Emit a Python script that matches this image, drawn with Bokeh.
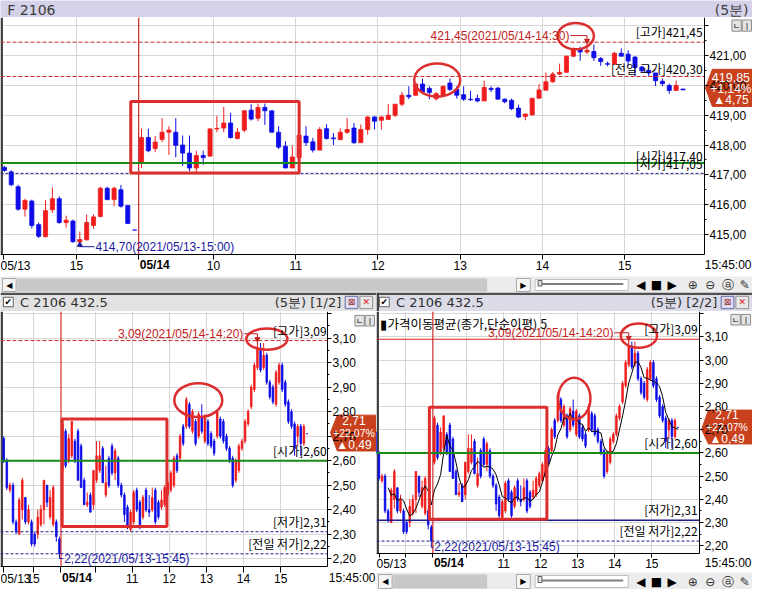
import pandas as pd
from bokeh.plotting import figure
from bokeh.models import Range1d, FixedTicker, Label, ColumnDataSource
from bokeh.layouts import column, row
from bokeh.embed import file_html
from bokeh.resources import INLINE
from bokeh.core.properties import value

KFONT = "Noto Sans CJK KR"
NFONT = "Liberation Sans"
SYM = "DejaVu Sans"
UP, DOWN = "#f01c1c", "#0c0ce8"
RED_LINE = "#c42a2a"
NAVY = "#1c1c8c"
GREEN = "#188a18"
MARK = "#dc2e2e"
GRID = "#d6d6d6"
TAG = "#c8401c"

# ---------------- F 2106 (5-min) : 20 bars of 05/13 + 80 bars of 05/14 ----------------
fut_x = list(range(100))
fut_open = [417.25, 417.10, 416.60, 415.85, 416.12, 415.33, 414.93, 415.83, 416.20, 415.40,
            415.45, 414.75, 414.82, 415.30, 415.60, 416.55, 416.17, 416.50, 415.97, 415.15,
            417.43, 418.25, 417.88, 418.19, 418.43, 418.43, 418.00, 417.73, 417.23, 417.65,
            417.63, 418.54, 418.57, 418.74, 418.22, 418.50, 419.17, 418.90, 419.26, 419.15,
            418.43, 417.96, 417.23, 417.58, 418.30, 418.11, 417.83, 418.55, 418.24, 418.18,
            418.43, 418.57, 418.08, 418.52, 418.94, 418.83, 418.86, 419.00, 419.37, 419.67,
            419.67, 420.05, 419.90, 419.55, 419.67, 420.08, 419.87, 419.69, 419.54, 419.56,
            419.48, 419.90, 419.91, 419.54, 419.50, 419.24, 418.96, 419.01, 419.57, 419.84,
            420.12, 420.38, 420.44, 420.98, 421.22, 421.12, 421.14, 420.90, 420.73, 420.71,
            421.08, 421.05, 420.95, 420.62, 420.50, 420.42, 420.14, 420.00, 419.83, 419.88]
fut_high = [417.30, 417.15, 416.67, 416.20, 416.17, 415.40, 416.15, 416.58, 416.28, 415.63,
            415.50, 415.10, 415.67, 415.67, 416.60, 416.60, 416.60, 416.66, 415.97, 415.15,
            418.55, 418.55, 418.30, 418.90, 418.63, 418.90, 418.32, 418.32, 417.81, 417.81,
            418.57, 418.98, 419.28, 419.08, 418.57, 419.17, 419.37, 419.39, 419.39, 419.15,
            418.63, 418.13, 417.98, 418.35, 418.63, 418.24, 418.60, 418.70, 418.40, 418.56,
            418.91, 418.74, 418.69, 418.97, 418.97, 418.97, 419.37, 419.37, 419.78, 419.97,
            420.10, 420.23, 419.97, 419.78, 420.00, 420.23, 419.97, 419.97, 419.82, 419.69,
            420.16, 419.97, 419.95, 419.56, 419.56, 419.35, 419.05, 419.57, 420.05, 420.43,
            420.45, 420.73, 421.00, 421.28, 421.30, 421.45, 421.37, 420.95, 420.80, 421.12,
            421.24, 421.18, 420.98, 420.65, 420.68, 420.42, 420.23, 420.06, 420.16, 419.88]
fut_low = [417.10, 416.62, 415.80, 415.60, 415.20, 414.88, 414.90, 415.72, 415.36, 415.23,
           414.72, 414.70, 414.80, 415.19, 415.58, 416.15, 415.95, 415.90, 415.35, 415.15,
           417.23, 417.76, 417.76, 418.10, 417.67, 417.59, 417.30, 417.12, 417.10, 417.34,
           417.60, 418.43, 418.43, 418.22, 418.19, 418.43, 418.82, 418.80, 418.68, 418.43,
           417.87, 417.23, 417.23, 417.55, 417.97, 417.75, 417.83, 418.18, 418.00, 418.18,
           418.37, 418.04, 418.08, 418.35, 418.52, 418.52, 418.86, 418.94, 419.30, 419.54,
           419.67, 419.78, 419.54, 419.50, 419.67, 419.82, 419.56, 419.48, 419.48, 419.43,
           419.48, 419.78, 419.54, 419.40, 419.17, 418.90, 418.83, 419.00, 419.57, 419.84,
           420.09, 420.35, 420.44, 420.95, 420.83, 421.05, 420.82, 420.66, 420.64, 420.71,
           420.98, 420.66, 420.30, 420.43, 420.30, 419.98, 419.98, 419.72, 419.83, 419.85]
fut_close = [417.15, 416.67, 415.85, 416.14, 415.30, 414.94, 415.80, 416.20, 415.40, 415.48,
             414.76, 414.83, 415.40, 415.59, 416.55, 416.17, 416.55, 415.95, 415.37, 415.15,
             418.25, 417.81, 418.10, 418.43, 418.50, 417.99, 417.73, 417.23, 417.65, 417.58,
             418.54, 418.56, 418.74, 418.25, 418.43, 419.15, 418.87, 419.26, 419.15, 418.43,
             417.93, 417.23, 417.60, 418.33, 418.08, 417.83, 418.52, 418.22, 418.21, 418.43,
             418.52, 418.08, 418.52, 418.94, 418.80, 418.94, 419.00, 419.37, 419.67, 419.62,
             420.05, 419.78, 419.76, 419.72, 419.97, 419.86, 419.67, 419.54, 419.52, 419.48,
             419.93, 419.86, 419.54, 419.45, 419.22, 418.94, 419.04, 419.57, 419.85, 420.12,
             420.38, 420.44, 420.98, 421.22, 421.12, 421.18, 420.93, 420.80, 420.71, 421.08,
             420.98, 420.82, 420.60, 420.49, 420.42, 420.16, 420.06, 419.83, 420.00, 419.85]
fut_ticks = [-0.1, 10.5, 19.6, 30.5, 42.5, 54.5, 66.5, 78.5, 90.5]
fut_tick_labels = ["05/13", "15", "", "10", "11", "12", "13", "14", "15"]
fut_day_start = 19.6
fut_high_bar = 85
fut_low_bar = 11
fut_levels = {"high": 421.45, "prev_high": 420.30, "open": 417.40, "low": 417.05}
fut_y_ticks = [415, 416, 417, 418, 419, 420, 421, 422]
fut_y_labels = ["415,00", "416,00", "417,00", "418,00", "419,00", "420,00", "421,00", ""]
fut_tag = ["419,85", "+1,14%", "▲4,75"]

# ---------------- C 2106 432.5 (5-min) : 19 bars of 05/13 + 80 bars of 05/14 ----------------
opt_x = list(range(99))
opt_open = [2.69, 2.60, 2.48, 2.50, 2.35, 2.30, 2.40, 2.45, 2.35, 2.35, 2.30, 2.30, 2.34, 2.40, 2.50, 2.37, 2.34, 2.35, 2.28,
            2.56, 2.72, 2.60, 2.62, 2.68, 2.72, 2.66, 2.52, 2.42, 2.46,
            2.42, 2.52, 2.56, 2.65, 2.46, 2.61, 2.66, 2.55, 2.61, 2.50,
            2.46, 2.41, 2.32, 2.35, 2.48, 2.43, 2.37, 2.48, 2.40, 2.40,
            2.48, 2.43, 2.41, 2.42, 2.46, 2.48, 2.50, 2.62, 2.61, 2.74,
            2.74, 2.83, 2.72, 2.76, 2.70, 2.78, 2.68, 2.76, 2.71, 2.68,
            2.70, 2.77, 2.76, 2.70, 2.65, 2.61, 2.52, 2.56, 2.65, 2.68,
            2.75, 2.82, 2.89, 2.98, 3.06, 2.98, 3.03, 2.92, 2.90, 2.83,
            2.92, 2.99, 2.92, 2.84, 2.80, 2.75, 2.70, 2.74, 2.67, 2.71]
opt_high = [2.70, 2.61, 2.51, 2.51, 2.36, 2.45, 2.53, 2.45, 2.42, 2.36, 2.31, 2.40, 2.42, 2.52, 2.50, 2.48, 2.50, 2.36, 2.29,
            2.76, 2.73, 2.71, 2.76, 2.69, 2.73, 2.67, 2.53, 2.47, 2.47,
            2.56, 2.68, 2.68, 2.66, 2.58, 2.62, 2.67, 2.65, 2.62, 2.51,
            2.47, 2.42, 2.40, 2.48, 2.49, 2.44, 2.46, 2.49, 2.46, 2.49,
            2.49, 2.44, 2.48, 2.50, 2.52, 2.56, 2.62, 2.63, 2.71, 2.75,
            2.86, 2.84, 2.81, 2.77, 2.80, 2.83, 2.79, 2.77, 2.72, 2.69,
            2.81, 2.78, 2.77, 2.71, 2.66, 2.62, 2.61, 2.67, 2.69, 2.77,
            2.81, 2.91, 3.00, 3.09, 3.08, 3.08, 3.04, 2.93, 2.91, 2.97,
            3.00, 3.00, 2.93, 2.85, 2.81, 2.76, 2.75, 2.75, 2.75, 2.71]
opt_low = [2.59, 2.48, 2.47, 2.34, 2.30, 2.30, 2.36, 2.34, 2.34, 2.25, 2.25, 2.28, 2.33, 2.34, 2.41, 2.36, 2.33, 2.27, 2.22,
           2.55, 2.57, 2.59, 2.61, 2.59, 2.52, 2.49, 2.42, 2.41, 2.39,
           2.40, 2.51, 2.55, 2.51, 2.45, 2.49, 2.54, 2.52, 2.49, 2.45,
           2.35, 2.32, 2.31, 2.34, 2.39, 2.32, 2.36, 2.39, 2.37, 2.39,
           2.34, 2.36, 2.40, 2.41, 2.45, 2.47, 2.49, 2.55, 2.60, 2.66,
           2.73, 2.73, 2.71, 2.66, 2.69, 2.71, 2.67, 2.66, 2.65, 2.62,
           2.69, 2.69, 2.67, 2.64, 2.59, 2.49, 2.51, 2.55, 2.64, 2.67,
           2.74, 2.81, 2.88, 2.97, 2.96, 2.97, 2.91, 2.85, 2.83, 2.82,
           2.91, 2.88, 2.82, 2.75, 2.73, 2.62, 2.66, 2.62, 2.66, 2.71]
opt_close = [2.60, 2.49, 2.50, 2.35, 2.31, 2.44, 2.52, 2.35, 2.40, 2.26, 2.26, 2.37, 2.40, 2.52, 2.43, 2.45, 2.49, 2.29, 2.22,
             2.75, 2.58, 2.69, 2.76, 2.60, 2.52, 2.49, 2.42, 2.43, 2.39,
             2.56, 2.62, 2.62, 2.51, 2.51, 2.50, 2.55, 2.64, 2.50, 2.46,
             2.38, 2.33, 2.39, 2.47, 2.40, 2.33, 2.45, 2.40, 2.39, 2.45,
             2.35, 2.37, 2.44, 2.49, 2.51, 2.55, 2.61, 2.56, 2.70, 2.67,
             2.85, 2.74, 2.80, 2.67, 2.79, 2.72, 2.78, 2.67, 2.66, 2.63,
             2.80, 2.70, 2.68, 2.65, 2.60, 2.50, 2.60, 2.66, 2.68, 2.76,
             2.80, 2.90, 2.99, 3.06, 2.97, 3.03, 2.92, 2.86, 2.84, 2.96,
             2.99, 2.89, 2.83, 2.76, 2.74, 2.65, 2.74, 2.67, 2.74, 2.71]
opt_day_start = 18.5
opt_high_bar = 82
opt_low_bar = 18
opt_levels = {"high": 3.09, "open": 2.60, "low": 2.31, "prev_low": 2.22}
opt_y_ticks = [2.2, 2.3, 2.4, 2.5, 2.6, 2.7, 2.8, 2.9, 3.0, 3.1, 3.2]
opt_y_labels = ["2,20", "2,30", "2,40", "2,50", "2,60", "2,70", "2,80", "2,90", "3,00", "3,10", ""]
opt_grid_x = [9.5, 29.5, 41.5, 53.5, 65.5, 77.5, 89.5]
opt_tag = ["2,71", "+22,07%", "▲0,49"]
ma_period = 5


def lab(p, x, y, text, font=NFONT, size="12px", color="black", align="left", baseline="middle", **kw):
    p.add_layout(Label(x=x, y=y, text=text, text_font=font, text_font_size=size, text_color=color,
                       text_align=align, text_baseline=baseline, **kw))


def candles(p, x, o, h, l, c, width, lw):
    col = [UP if cc > oo else DOWN for oo, cc in zip(o, c)]
    src = ColumnDataSource(dict(x=x, h=h, l=l, top=[max(a, b) for a, b in zip(o, c)],
                                bot=[min(a, b) for a, b in zip(o, c)], color=col))
    p.segment("x", "h", "x", "l", source=src, line_color="color", line_width=1)
    p.vbar(x="x", width=width, top="top", bottom="bot", source=src,
           fill_color="color", line_color="color", line_width=lw)


def main_fig(w, h, X, Y, px_box, axis_px):
    """px_box: reference-pixel box of the panel (x0, x1, y0, y1); axis_px: (y-axis x, x-axis y) in ref pixels."""
    xr = (X(px_box[0]), X(px_box[1]))
    yr = (Y(px_box[3]), Y(px_box[2]))
    ax_x, ax_y = X(axis_px[0]), Y(axis_px[1])
    p = figure(width=w, height=h, x_range=Range1d(*xr), y_range=Range1d(*yr),
               output_backend="svg", toolbar_location=None,
               x_axis_location="below", y_axis_location="right",
               min_border=0, min_border_left=0, min_border_right=0, min_border_top=0, min_border_bottom=0,
               background_fill_color="white", border_fill_color="white")
    p.outline_line_color = None
    p.xaxis.fixed_location = ax_y
    p.yaxis.fixed_location = ax_x
    p.xaxis.bounds = (xr[0], ax_x)
    p.yaxis.bounds = (ax_y, yr[1])
    for ax in (p.xaxis, p.yaxis):
        ax.axis_line_color = "black"
        ax.major_tick_line_color = "black"
        ax.minor_tick_line_color = "black"
        ax.major_label_text_font = NFONT
        ax.major_label_text_font_size = "12px"
        ax.major_label_text_color = "black"
    p.xaxis.major_tick_in = 0
    p.xaxis.minor_tick_out = 0
    p.xaxis.minor_tick_in = 0
    p.xaxis.major_label_standoff = 0
    p.xaxis.major_label_text_align = "left"
    p.yaxis.major_tick_in = 0
    p.yaxis.minor_tick_in = 0
    p.yaxis.major_tick_out = 4
    p.yaxis.minor_tick_out = 2
    p.yaxis.major_label_standoff = 1
    p.xgrid.grid_line_color = GRID
    p.ygrid.grid_line_color = GRID
    # white margins (axis-label area) over the grid
    p.quad(left=[ax_x], right=[xr[1]], bottom=[yr[0]], top=[yr[1]], fill_color="white", line_color=None)
    p.quad(left=[xr[0]], right=[xr[1]], bottom=[yr[0]], top=[ax_y], fill_color="white", line_color=None)
    # dark window edge on the left
    p.quad(left=[xr[0]], right=[X(px_box[0] + 2.5)], bottom=[ax_y], top=[yr[1]], fill_color="#404040", line_color=None)
    return p, xr, yr, ax_x, ax_y


def hline(p, x0, x1, y, **kw):
    p.segment(x0=[x0], y0=[y], x1=[x1], y1=[y], **kw)


def price_tag(p, X, Y, pts, cx, ys, texts, sizes):
    p.patch(x=[X(a) for a, b in pts], y=[Y(b) for a, b in pts], fill_color=TAG, line_color=TAG)
    for yy, s, fs in zip(ys, texts, sizes):
        lab(p, X(cx), Y(yy), s, size=fs, color="white", align="center")


def buttons(p, X, Y, x0, y0, y1):
    p.quad(left=[X(x0), X(x0 + 10.5)], right=[X(x0 + 9.5), X(x0 + 20)], top=[Y(y0)] * 2, bottom=[Y(y1)] * 2,
           fill_color="#e4e4e4", line_color="#8a8a8a")
    p.text(x=[X(x0 + 4.75), X(x0 + 15.25)], y=[Y((y0 + y1) / 2)] * 2, text=["ㄴ", "ㅣ"], text_align="center",
           text_baseline="middle", text_font=value(KFONT), text_font_size="8px", text_color="black")


def chrome(w, h, xr, yr, bg):
    f = figure(width=w, height=h, x_range=Range1d(*xr), y_range=Range1d(*yr),
               output_backend="svg", toolbar_location=None,
               x_axis_location=None, y_axis_location=None,
               min_border=0, min_border_left=0, min_border_right=0, min_border_top=0, min_border_bottom=0,
               background_fill_color=bg, border_fill_color=bg)
    f.outline_line_color = None
    f.grid.visible = False
    return f


def scrollbar(f, x0):
    y0, y1 = f.y_range.end + 2, f.y_range.start - 1
    ym = (y0 + y1) / 2
    f.quad(left=[x0 + 1], right=[x0 + 15], top=[y0], bottom=[y1], fill_color="#f6f6f6", line_color="#a8a8a8")
    f.quad(left=[x0 + 16], right=[497], top=[y0], bottom=[y1], fill_color="#c8c8c8", line_color=None)
    f.quad(left=[527], right=[541], top=[y0], bottom=[y1], fill_color="#f6f6f6", line_color="#a8a8a8")
    f.text(x=[x0 + 8, 534], y=[ym, ym], text=["◀", "▶"], text_align="center", text_baseline="middle",
           text_font=value(SYM), text_font_size="8px", text_color="black")
    f.quad(left=[546], right=[641], top=[y0 + 1], bottom=[y1 - 1], fill_color="#ffffff", line_color="#c0c0c0")
    f.segment(x0=[550], y0=[ym - 1], x1=[636], y1=[ym - 1], line_color="#808080", line_width=2)
    f.quad(left=[549], right=[553], top=[y0 + 2], bottom=[ym + 1], fill_color="#e0e0e0", line_color="#606060")
    f.text(x=[654, 670, 686], y=[ym] * 3, text=["◀", "■", "▶"], text_align="center",
           text_baseline="middle", text_font=value(SYM), text_font_size="12px", text_color="black")
    f.text(x=[707, 725, 743, 760], y=[ym] * 4, text=["⊕", "⊖", "ⓐ", "✎"], text_align="center",
           text_baseline="middle", text_font=value(SYM), text_font_size="12px", text_color="#303030")


def header(f, x0, x1, title, right):
    f.quad(left=[x0], right=[x1], top=[298], bottom=[300.5], fill_color="#505050", line_color=None)
    f.quad(left=[x0 + 3], right=[x0 + 13], top=[303], bottom=[313], fill_color="white", line_color="#606060")
    f.text(x=[x0 + 8], y=[308], text=["✔"], text_align="center", text_baseline="middle",
           text_font=value(SYM), text_font_size="9px", text_color="black")
    f.text(x=[x0 + 20], y=[309], text=[title], text_baseline="middle",
           text_font=value(SYM), text_font_size="13px", text_color="#303030")
    f.text(x=[x1 - 36], y=[309], text=[right], text_align="right", text_baseline="middle",
           text_font=value(SYM), text_font_size="13px", text_color="#303030")
    f.quad(left=[x1 - 32, x1 - 17], right=[x1 - 19, x1 - 4], top=[302, 302], bottom=[315, 315],
           fill_color=["#dcdcf2", "#e8e8e8"], line_color=["#6a6aa8", "#909090"])
    f.text(x=[x1 - 25.5, x1 - 10.5], y=[308.5, 308.5], text=["⊠", "✕"], text_align="center",
           text_baseline="middle", text_font=value(SYM), text_font_size="9px",
           text_color=["#a03030", "#d02020"])


# ================= TOP : F 2106 =================
def TX(px):
    return (px - 4) / 7.0


def TY(py):
    return 421 - (py - 56) / 30.5


top, txr, tyr, tax, tay = main_fig(752, 259, TX, TY, (0, 768, 17, 282), (719, 259))
top.xaxis.ticker = FixedTicker(ticks=fut_ticks)
top.xaxis.major_tick_out = 5
top.xaxis.major_label_overrides = {t: s for t, s in zip(fut_ticks, fut_tick_labels)}
top.xgrid.ticker = FixedTicker(ticks=fut_ticks[1:])
top.yaxis.ticker = FixedTicker(ticks=fut_y_ticks, minor_ticks=[t + 0.5 for t in fut_y_ticks[:-1]])
top.yaxis.major_label_overrides = {t: s for t, s in zip(fut_y_ticks, fut_y_labels)}
top.ygrid.ticker = FixedTicker(ticks=fut_y_ticks)

candles(top, fut_x, fut_open, fut_high, fut_low, fut_close, 0.6, 0.8)

top.segment(x0=[fut_day_start], y0=[tay], x1=[fut_day_start], y1=[tyr[1]], line_color="#c80000", line_width=1)
hline(top, txr[0], tax, fut_levels["high"], line_color=RED_LINE, line_dash="4 2")
hline(top, txr[0], tax, fut_levels["prev_high"], line_color=RED_LINE, line_dash="4 2")
hline(top, txr[0], tax, fut_levels["open"], line_color=GREEN, line_width=2)
hline(top, txr[0], tax, fut_levels["low"], line_color=NAVY, line_dash="3 2")

# marks drawn on the screenshot (reference pixels)
top.quad(left=[TX(133)], right=[TX(305)], top=[TY(103)], bottom=[TY(176)], fill_color=None, line_color=MARK, line_width=3)
top.ellipse(x=[TX(446), TX(587.5)], y=[TY(81), TY(36)], width=[47 / 7.0, 37 / 7.0], height=[34 / 30.5, 27 / 30.5],
            fill_color=None, line_color=MARK, line_width=2.5)

lab(top, TX(717), fut_levels["high"], "[고가]421,45", font=KFONT, align="right", baseline="bottom", y_offset=2)
lab(top, TX(717), fut_levels["prev_high"], "[전일 고가]420,30", font=KFONT, align="right", baseline="bottom", y_offset=-1)
lab(top, TX(717), fut_levels["open"], "[시가]417,40", font=KFONT, align="right", baseline="bottom", y_offset=-1)
lab(top, TX(717), fut_levels["low"], "[저가]417,05", font=KFONT, align="right", baseline="bottom", y_offset=1)

hy = TY(35.5)
lab(top, TX(581), hy, "421,45(2021/05/14-14:30)", color="#c42020", align="right")
top.line(x=[TX(582), fut_high_bar, fut_high_bar], y=[hy, hy, fut_levels["high"] + 0.05], line_color="#c42020", line_width=1)
top.scatter(x=[fut_high_bar], y=[fut_levels["high"] + 0.05], marker="inverted_triangle", size=5,
            fill_color="#c42020", line_color="#c42020")
ly = TY(251.5)
lab(top, TX(97), ly, "414,70(2021/05/13-15:00)", color="#1818a0")
top.line(x=[fut_low_bar, fut_low_bar, TX(96)], y=[fut_low[fut_low_bar] - 0.04, ly, ly], line_color="#1818a0", line_width=1)
top.scatter(x=[fut_low_bar], y=[fut_low[fut_low_bar] - 0.05], marker="triangle", size=5,
            fill_color="#1818a0", line_color="#1818a0")

lab(top, fut_day_start, TY(270.5), "05/14", x_offset=1, text_font_style="bold")
lab(top, TX(767), TY(270.5), "15:45:00", align="right")
price_tag(top, TX, TY, [(720, 89), (727, 70), (769, 70), (769, 108), (727, 108)], 746, [78.5, 90, 101.5],
          fut_tag, ["12.5px", "12px", "12px"])
buttons(top, TX, TY, 747, 19.5, 31)

top_head = chrome(752, 17, (0, 768), (17, 0), "#d4d2e8")
top_head.text(x=[7], y=[9], text=["F 2106"], text_baseline="middle", text_font=value(SYM),
              text_font_size="14px", text_color="#3c3c3c")
top_head.text(x=[764], y=[9], text=["(5분)"], text_align="right", text_baseline="middle", text_font=value(SYM),
              text_font_size="14px", text_color="#3c3c3c")

top_scroll = chrome(752, 16, (0, 768), (298, 282), "#ececec")
scrollbar(top_scroll, 1)


# ================= BOTTOM : C 2106 432.5 =================
def option_panel(w, h, X, Y, box_px, axis_px, solid, tick_out, ticks, labels, rect_px, ells_px,
                 lab_px, hi_ann, lo_ann, tag_pts, tag_cx, tag_ys, btn, label_y, with_ma):
    p, xr, yr, ax, ay = main_fig(w, h, X, Y, box_px, axis_px)
    p.xaxis.ticker = FixedTicker(ticks=ticks)
    p.xaxis.major_tick_out = tick_out
    p.xaxis.major_label_overrides = {t: s for t, s in zip(ticks, labels)}
    p.xgrid.ticker = FixedTicker(ticks=opt_grid_x)
    p.yaxis.ticker = FixedTicker(ticks=opt_y_ticks, minor_ticks=[round(t + 0.05, 2) for t in opt_y_ticks[:-1]])
    p.yaxis.major_label_overrides = {t: s for t, s in zip(opt_y_ticks, opt_y_labels)}
    p.ygrid.ticker = FixedTicker(ticks=opt_y_ticks)

    candles(p, opt_x, opt_open, opt_high, opt_low, opt_close, 0.5, 0.8)
    if with_ma:
        ma = pd.Series(opt_close).rolling(ma_period).mean()
        p.line(x=opt_x, y=ma.tolist(), line_color="black", line_width=1)

    p.segment(x0=[opt_day_start], y0=[ay], x1=[opt_day_start], y1=[yr[1]], line_color="#c80000", line_width=1)
    if solid:
        hline(p, xr[0], ax, opt_levels["high"], line_color="#d02020", line_width=1)
        hline(p, xr[0], ax, opt_levels["low"], line_color=NAVY, line_width=1.5)
    else:
        hline(p, xr[0], ax, opt_levels["high"], line_color=RED_LINE, line_dash="4 2")
        hline(p, xr[0], ax, opt_levels["low"], line_color=NAVY, line_dash="3 2")
    hline(p, xr[0], ax, opt_levels["open"], line_color=GREEN, line_width=2)
    hline(p, xr[0], ax, opt_levels["prev_low"], line_color=NAVY, line_dash="3 2")

    p.quad(left=[X(rect_px[0])], right=[X(rect_px[1])], top=[Y(rect_px[2])], bottom=[Y(rect_px[3])],
           fill_color=None, line_color=MARK, line_width=3)
    p.ellipse(x=[X(e[0]) for e in ells_px], y=[Y(e[1]) for e in ells_px],
              width=[X(e[0] + e[2] / 2) - X(e[0] - e[2] / 2) for e in ells_px],
              height=[Y(e[1] - e[3] / 2) - Y(e[1] + e[3] / 2) for e in ells_px],
              fill_color=None, line_color=MARK, line_width=2.5)

    lab(p, X(lab_px), opt_levels["high"], "[고가]3,09", font=KFONT, align="right", baseline="bottom", y_offset=2)
    lab(p, X(lab_px), opt_levels["open"], "[시가]2,60", font=KFONT, align="right", baseline="bottom", y_offset=2)
    lab(p, X(lab_px), opt_levels["low"], "[저가]2,31", font=KFONT, align="right", baseline="bottom", y_offset=2)
    lab(p, X(lab_px), opt_levels["prev_low"], "[전일 저가]2,22", font=KFONT, align="right", baseline="bottom", y_offset=2)

    hx, hyp = hi_ann
    hy = Y(hyp)
    lab(p, X(hx), hy, "3,09(2021/05/14-14:20)", color="#c42020", align="right")
    p.line(x=[X(hx + 1), opt_high_bar, opt_high_bar], y=[hy, hy, opt_levels["high"] + 0.008],
           line_color="#c42020", line_width=1)
    p.scatter(x=[opt_high_bar], y=[opt_levels["high"] + 0.006], marker="inverted_triangle", size=5,
              fill_color="#c42020", line_color="#c42020")
    lx, lyp = lo_ann
    ly = Y(lyp)
    lab(p, X(lx), ly, "2,22(2021/05/13-15:45)", color="#1818a0")
    p.line(x=[opt_low_bar, opt_low_bar, X(lx - 1)], y=[opt_low[opt_low_bar], ly, ly], line_color="#1818a0", line_width=1)

    lab(p, opt_day_start, Y(label_y), "05/14", x_offset=1, text_font_style="bold")
    lab(p, X(box_px[1] - 1), Y(label_y), "15:45:00", align="right")
    price_tag(p, X, Y, tag_pts, tag_cx, tag_ys, opt_tag, ["12px", "10.5px", "12px"])
    buttons(p, X, Y, btn[0], btn[1], btn[1] + 11)
    return p


def LX(px):
    return (px - 3.3) / 3.16


def LY(py):
    return 2.6 + (472 - py) / 253.0


def RX(px):
    return (px - 383.3) / 3.15


def RY(py):
    return 2.6 + (464.3 - py) / 240.0


left = option_panel(376, 278, LX, LY, (0, 384, 318, 605), (334, 581), False, 6,
                    [-0.1, 9.5, 18.5, 29.5, 41.5, 53.5, 65.5, 77.5, 89.5],
                    ["05/13", "15", "", "", "11", "12", "13", "14", "15"],
                    (63, 170, 429, 540), [(202, 409.5, 49, 35), (272, 346.5, 42, 22)],
                    333, (248, 341), (65, 573),
                    [(337, 443), (344, 425), (385, 425), (385, 462), (344, 462)], 361, [431, 443.5, 456],
                    (362, 322), 593, False)

right = option_panel(376, 261, RX, RY, (384, 768, 318, 588), (714, 568), True, 4,
                     [1.3, 9.5, 18.5, 29.5, 41.5, 53.5, 65.5, 77.5, 89.5],
                     ["05/13", "", "", "", "11", "12", "13", "14", "15"],
                     (438, 558, 417, 533), [(586, 408, 33, 43), (652, 343, 37, 25)],
                     712, (626, 340), (443, 562),
                     [(716, 440), (723, 420), (769, 420), (769, 455), (723, 455)], 742, [424.5, 437.5, 450],
                     (746, 321), 578, True)
lab(right, RX(388), RY(330.5), "▮가격이동평균(종가,단순이평) 5", font=KFONT, size="12.5px")

left_head = chrome(376, 19, (0, 384), (318, 298), "#e2e2e2")
header(left_head, 0, 384, "C 2106 432.5", "(5분) [1/2]")
right_head = chrome(376, 19, (384, 768), (318, 298), "#dcdce8")
header(right_head, 384, 768, "C 2106 432.5", "(5분) [2/2]")
right_head.quad(left=[384], right=[386.5], top=[318], bottom=[298], fill_color="#404040", line_color=None)

right_scroll = chrome(376, 17, (384, 768), (605, 588), "#ececec")
scrollbar(right_scroll, 385)

layout = column(top_head, top, top_scroll,
                row(column(left_head, left), column(right_head, right, right_scroll)))

open("out.html", "w").write(file_html(layout, INLINE))
